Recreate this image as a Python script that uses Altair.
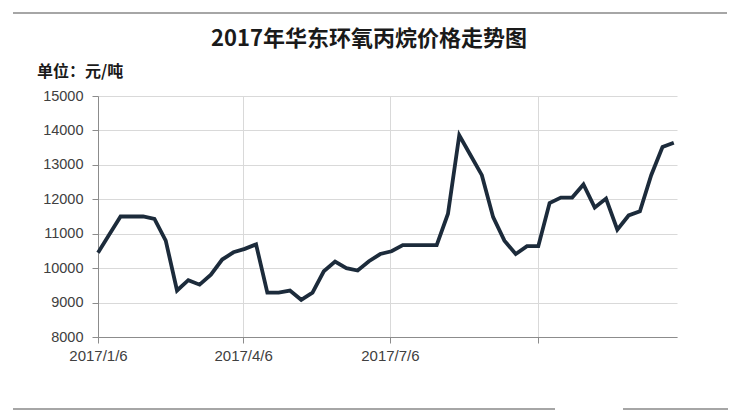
import altair as alt
import pandas as pd

# ---- data ----
dates = [
    "2017/01/06", "2017/01/13", "2017/01/20", "2017/01/27", "2017/02/03", "2017/02/10",
    "2017/02/17", "2017/02/24", "2017/03/03", "2017/03/10", "2017/03/17", "2017/03/24",
    "2017/03/31", "2017/04/07", "2017/04/14", "2017/04/21", "2017/04/28", "2017/05/05",
    "2017/05/12", "2017/05/19", "2017/05/26", "2017/06/02", "2017/06/09", "2017/06/16",
    "2017/06/23", "2017/06/30", "2017/07/07", "2017/07/14", "2017/07/21", "2017/07/28",
    "2017/08/04", "2017/08/11", "2017/08/18", "2017/08/25", "2017/09/01", "2017/09/08",
    "2017/09/15", "2017/09/22", "2017/09/29", "2017/10/06", "2017/10/13", "2017/10/20",
    "2017/10/27", "2017/11/03", "2017/11/10", "2017/11/17", "2017/11/24", "2017/12/01",
    "2017/12/08", "2017/12/15", "2017/12/22", "2017/12/29",
]
prices = [
    10450, 10980, 11500, 11500, 11500, 11430,
    10800, 9350, 9650, 9520, 9810, 10250,
    10460, 10560, 10690, 9290, 9290, 9350,
    9080, 9290, 9910, 10190, 10000, 9930,
    10200, 10410, 10490, 10670, 10670, 10670,
    10670, 11580, 13860, 13280, 12700, 11480,
    10800, 10410, 10640, 10640, 11890, 12050,
    12050, 12430, 11760, 12020, 11120, 11530,
    11650, 12700, 13520, 13640,
]
y_ticks = [8000, 9000, 10000, 11000, 12000, 13000, 14000, 15000]
x_tick_months = [1, 4, 7, 10]
title_text = "2017年华东环氧丙烷价格走势图"
unit_text = "单位：元/吨"

df = pd.DataFrame({"date": dates, "price": prices})
one = pd.DataFrame({"k": [0]})

W, H = 579, 241
GRID = "#d9d9d9"
AXC = "#8c8c8c"
LBL = "#404040"

x_enc = alt.X(
    "date:T",
    scale=alt.Scale(domain=[alt.DateTime(year=2017, month=1, date=6),
                            alt.DateTime(year=2017, month=12, date=31)]),
    axis=alt.Axis(
        values=[alt.DateTime(year=2017, month=m, date=6) for m in x_tick_months],
        format="%Y/%-m/%-d",
        labelExpr="month(datum.value) >= 9 ? '' : datum.label",
        title=None, grid=True, gridColor=GRID, gridWidth=1,
        domainColor=AXC, tickColor=AXC, tickSize=6,
        labelFont="Liberation Sans", labelFontSize=15, labelColor=LBL,
        labelPadding=5, labelFlush=False, labelOverlap=False,
    ),
)
y_enc = alt.Y(
    "price:Q",
    scale=alt.Scale(domain=[8000, 15000], nice=False, zero=False),
    axis=alt.Axis(
        values=y_ticks, format="d", title=None, grid=True, gridColor=GRID,
        domainColor=AXC, tickColor=AXC, tickSize=6,
        labelFont="Liberation Sans", labelFontSize=14.5, labelColor=LBL,
        labelPadding=9,
    ),
)

line = alt.Chart(df).mark_line(color="#1c2b3b", strokeWidth=3.8).encode(x=x_enc, y=y_enc)

title = alt.Chart(one).mark_text(
    text=title_text, font="Noto Sans CJK SC", fontSize=22, fontWeight="bold",
    color="#1a1a1a", align="center", baseline="middle",
).encode(x=alt.value(271), y=alt.value(-57))

unit = alt.Chart(one).mark_text(
    text=unit_text, font="Noto Sans CJK SC", fontSize=16, fontWeight="bold",
    color="#1a1a1a", align="left", baseline="middle",
).encode(x=alt.value(-61), y=alt.value(-24))

rule_style = dict(color="#a6a6a6", strokeWidth=2)
top_rule = alt.Chart(one).mark_rule(**rule_style).encode(
    x=alt.value(-85), x2=alt.value(629), y=alt.value(-83))
bot_rule1 = alt.Chart(one).mark_rule(**rule_style).encode(
    x=alt.value(-85), x2=alt.value(457), y=alt.value(313))
bot_rule2 = alt.Chart(one).mark_rule(**rule_style).encode(
    x=alt.value(525), x2=alt.value(630), y=alt.value(313))

chart = alt.layer(top_rule, bot_rule1, bot_rule2, line, title, unit).properties(
    width=W, height=H,
    autosize=alt.AutoSizeParams(type="none"),
    padding={"left": 90, "top": 88, "right": 60, "bottom": 74},
    background="white",
).configure_view(stroke=None)

chart.save("out.html", embed_options={"renderer": "svg", "actions": False})
